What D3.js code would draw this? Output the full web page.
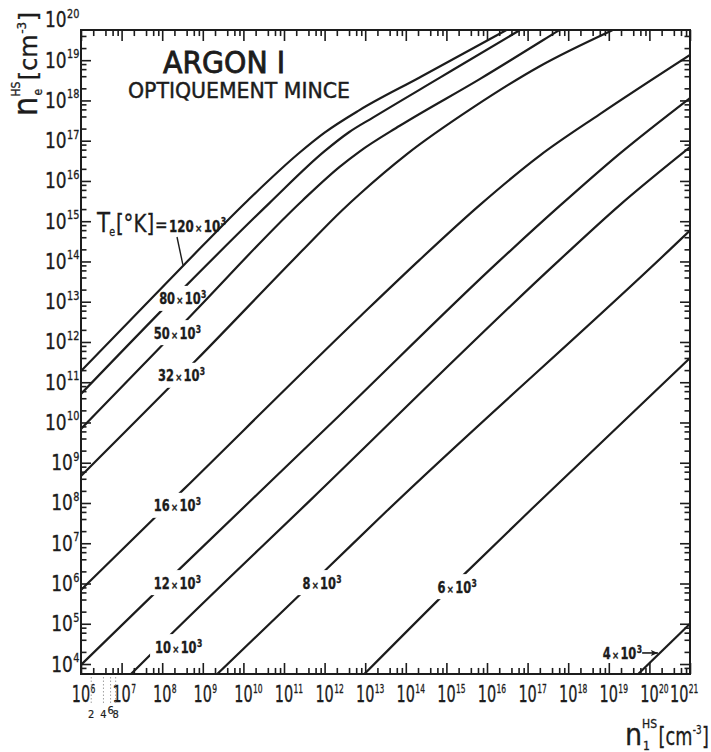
<!DOCTYPE html>
<html>
<head>
<meta charset="utf-8">
<script src="https://cdn.jsdelivr.net/npm/d3@7"></script>
<style>
  body { margin: 0; background: #fff; }
  svg { display: block; }
  text { font-family: "Liberation Sans Narrow", "DejaVu Sans Condensed", "Liberation Sans", sans-serif;
         fill: #1c1c1c; stroke: #1c1c1c; stroke-width: 0.3; }
</style>
</head>
<body>
<svg id="chart" width="711" height="752"></svg>
<script>
// Argon I, optically thin: electron density n_e versus ground-state density n_1,
// one curve per electron temperature. Points are [log10 n1, log10 ne] in cm^-3.

const temperatures = ["120", "80", "50", "32", "16", "12", "10", "8", "6", "4"]; // ×10^3 K

const T120 = [[6.00, 11.28], [8.54, 13.92], [10.10, 15.51], [11.38, 16.70], [12.00, 17.20],
              [12.86, 17.76], [14.34, 18.57], [16.39, 19.70], [17.00, 20.04]];
const T80  = [[6.00, 10.71], [8.54, 13.35], [10.64, 15.45], [12.00, 16.74], [12.60, 17.21],
              [13.20, 17.58], [14.83, 18.56], [16.73, 19.70], [17.50, 20.16]];
const T50  = [[6.00, 9.84], [8.71, 12.66], [11.45, 15.51], [12.37, 16.35], [12.86, 16.73],
              [13.85, 17.37], [15.82, 18.53], [17.72, 19.71], [18.50, 20.20]];
const T32  = [[6.00, 8.67], [8.84, 11.55], [11.45, 14.27], [12.44, 15.28], [12.86, 15.67],
              [14.02, 16.66], [15.65, 17.82], [17.30, 18.85], [19.10, 19.75], [19.60, 19.98]];
const T16  = [[6.00, 5.84], [8.54, 8.35], [12.86, 12.62], [14.34, 14.04], [15.82, 15.40],
              [17.30, 16.63], [18.78, 17.66], [21.00, 19.13]];
const T12  = [[6.00, 3.98], [8.47, 6.40], [12.37, 10.18], [16.31, 14.02], [17.79, 15.38],
              [19.27, 16.68], [21.00, 18.06]];
const T10  = [[7.10, 3.62], [8.25, 4.77], [11.67, 8.09], [17.79, 14.04], [19.27, 15.40], [21.00, 16.84]];
const T8   = [[9.22, 3.62], [12.05, 6.36], [13.53, 7.80], [20.51, 14.30], [21.00, 14.77]];
const T6   = [[12.85, 3.62], [15.45, 6.24], [17.10, 7.85], [21.00, 11.60]];
const T4   = [[19.59, 3.62], [21.00, 5.00]];

const seriesList = [T120, T80, T50, T32, T16, T12, T10, T8, T6, T4];

// Tick labels (exponents of ten) on both axes
const xExponents = d3.range(6, 22);   // 10^6 … 10^21
const yExponents = d3.range(4, 21);   // 10^4 … 10^20
const minorMultipliers = [2, 4, 6, 8];
const firstDecadeMarks = ["2", "4", "6", "8"];

// Where each temperature label sits, in data units [log10 n1, log10 ne]
const labelAnchors = {
  "80": [8.47, 13.07], "50": [8.34, 12.22], "32": [8.44, 11.16], "16": [8.34, 7.93],
  "12": [8.34, 6.01], "10": [8.37, 4.42], "8": [11.90, 6.01], "6": [15.23, 5.91], "4": [19.30, 4.25]
};

const svg = d3.select("#chart");
const frame = { left: 81, right: 690, top: 30, bottom: 674 };
const ink = "#1c1c1c";

const x = d3.scaleLog().domain([1e6, 1e21]).range([frame.left, frame.right]);
const y = d3.scaleLog().domain([Math.pow(10, 3.752), Math.pow(10, 19.75)]).range([frame.bottom, frame.top]);
const P = v => Math.pow(10, v);

// ---- one <text> built from runs (size, weight, raise/lower), optionally squeezed horizontally
function richText(parent, parts, squeeze = 1) {
  const g = parent.append("g");
  const t = g.append("text").attr("transform", `scale(${squeeze},1)`);
  let shift = 0;
  const spans = parts.map(p => {
    const target = p.dy || 0;
    const s = t.append("tspan")
      .attr("font-size", p.size)
      .attr("dy", target - shift)
      .attr("dx", p.dx || 0)
      .text(p.t);
    if (p.weight) s.attr("font-weight", p.weight);
    shift = target;
    return s;
  });
  const w = t.node().getComputedTextLength() * squeeze;
  const first = spans[0].node().getComputedTextLength() * squeeze;
  return { g, w, first };
}

// ---- axes: major ticks at decades, minor at 2,4,6,8
function decadeTicks(lo, hi) {
  const major = [], minor = [];
  for (let k = Math.floor(lo) - 1; k <= Math.ceil(hi); k++) {
    if (k >= lo - 1e-9 && k <= hi + 1e-9) major.push(P(k));
    minorMultipliers.forEach(m => {
      const v = k + Math.log10(m);
      if (v > lo + 0.08 && v < hi - 0.08) minor.push(P(v));
    });
  }
  return { major, minor };
}
const xt = decadeTicks(6, 21);
const yt = decadeTicks(3.752, 19.75);

function drawAxis(axisFn, scale, ticks, len, transform) {
  [[ticks.major, len], [ticks.minor, len * 0.55]].forEach(([vals, size]) => {
    const a = svg.append("g")
      .attr("transform", transform)
      .call(axisFn(scale).tickValues(vals).tickSize(-size).tickFormat(""));
    a.select(".domain").remove();
    a.selectAll(".tick line").attr("stroke", ink).attr("stroke-width", 1.6);
  });
}
drawAxis(d3.axisBottom, x, xt, 11, `translate(0,${frame.bottom})`);
drawAxis(d3.axisTop, x, xt, 11, `translate(0,${frame.top})`);
drawAxis(d3.axisLeft, y, yt, 10, `translate(${frame.left},0)`);
drawAxis(d3.axisRight, y, yt, 10, `translate(${frame.right},0)`);

svg.append("rect")
  .attr("x", frame.left).attr("y", frame.top)
  .attr("width", frame.right - frame.left).attr("height", frame.bottom - frame.top)
  .attr("fill", "none").attr("stroke", ink).attr("stroke-width", 2);

// ---- tick labels: "10" with the exponent raised
let prevRight = -Infinity;
xExponents.forEach(k => {
  const { g, w, first } = richText(svg, [
    { t: "10", size: 23 },
    { t: String(k), size: 12, dy: -9, dx: 0.5 }
  ], 0.7);
  let left = x(P(k)) - first / 2;
  if (left + w > 698) left = 698 - w;
  left = Math.max(left, prevRight + 1);
  prevRight = left + w;
  g.attr("transform", `translate(${left},702)`);
});

yExponents.forEach(k => {
  const { g, w } = richText(svg, [
    { t: "10", size: 21 },
    { t: String(k), size: 12, dy: -9.5, dx: 0.5 }
  ], 0.9);
  g.attr("transform", `translate(${frame.left - 2 - w},${y(P(k)) + 7.5})`);
});

// small marks for 2,4,6,8 × 10^6 below the axis
firstDecadeMarks.forEach(m => {
  const px = x(P(6 + Math.log10(+m))) - 2;
  svg.append("line")
    .attr("x1", px).attr("x2", px).attr("y1", frame.bottom + 3).attr("y2", 704)
    .attr("stroke", "#a0a0a0").attr("stroke-width", 1).attr("stroke-dasharray", "1.5,2");
  svg.append("text")
    .attr("x", px).attr("y", m === "6" ? 714 : 718)
    .attr("text-anchor", "middle").attr("font-size", 11).style("stroke-width", 0.2).text(m);
});

// ---- curves
const defs = svg.append("defs");
defs.append("clipPath").attr("id", "plot-clip")
  .append("rect")
  .attr("x", frame.left).attr("y", frame.top)
  .attr("width", frame.right - frame.left).attr("height", frame.bottom - frame.top);

const line = d3.line()
  .x(d => x(P(d[0])))
  .y(d => y(P(d[1])))
  .curve(d3.curveMonotoneX);

const curveLayer = svg.append("g").attr("clip-path", "url(#plot-clip)");

temperatures.forEach((T, i) => {
  const mask = defs.append("mask").attr("id", `gap-${T}`)
    .attr("maskUnits", "userSpaceOnUse")
    .attr("x", 0).attr("y", 0).attr("width", 711).attr("height", 752);
  mask.append("rect").attr("width", 711).attr("height", 752).attr("fill", "#fff");
  curveLayer.append("path")
    .datum(seriesList[i])
    .attr("d", line)
    .attr("fill", "none")
    .attr("stroke", ink)
    .attr("stroke-width", 2.2)
    .attr("mask", `url(#gap-${T})`);
});

// value of log10 ne on a curve at a given log10 n1 (straight segments), and the inverse
function neAt(series, lx) {
  for (let i = 1; i < series.length; i++) {
    const [x0, y0] = series[i - 1], [x1, y1] = series[i];
    if (lx >= x0 && lx <= x1) return y0 + (y1 - y0) * (lx - x0) / (x1 - x0);
  }
  return series[series.length - 1][1];
}
function n1At(series, ly) {
  for (let i = 1; i < series.length; i++) {
    const [x0, y0] = series[i - 1], [x1, y1] = series[i];
    if (ly >= y0 && ly <= y1) return x0 + (x1 - x0) * (ly - y0) / (y1 - y0);
  }
  return series[series.length - 1][0];
}

// ---- temperature labels placed in gaps of their curves
function tempParts(T) {
  return [
    { t: T, size: 15, weight: "bold" },
    { t: "×", size: 11, weight: "bold", dx: 1.5 },
    { t: "10", size: 15, weight: "bold", dx: 1.5 },
    { t: "3", size: 10, weight: "bold", dy: -6, dx: 0.5 }
  ];
}
function tempLabel(T) {
  const { g, w } = richText(svg, tempParts(T), 0.85);
  const [ax, ay] = labelAnchors[T];
  const cx = x(P(ax)), cy = y(P(ay));
  g.attr("transform", `translate(${cx - w / 2},${cy + 5.5})`);
  return { left: cx - w / 2, right: cx + w / 2, top: cy - 8, bottom: cy + 7 };
}

["80", "50", "32", "16", "12", "10", "8", "6"].forEach(T => {
  const b = tempLabel(T);
  d3.select(`#gap-${T}`).append("rect")
    .attr("x", b.left - 5).attr("y", b.top - 5)
    .attr("width", b.right - b.left + 10).attr("height", b.bottom - b.top + 10)
    .attr("fill", "#000");
});

// 4×10^3 with an arrow to its curve
{
  const b = tempLabel("4");
  const ly = labelAnchors["4"][1];
  const tx = x(P(n1At(T4, ly))) - 1;
  const yy = y(P(ly)) - 1;
  svg.append("line").attr("x1", b.right + 3).attr("x2", tx).attr("y1", yy).attr("y2", yy)
    .attr("stroke", ink).attr("stroke-width", 1.6);
  svg.append("path")
    .attr("d", `M${tx},${yy} l-7,-3 l1.5,3 l-1.5,3 z`)
    .attr("fill", ink);
}

// T_e[°K] = 120×10^3 with a leader to the top curve
{
  const { g } = richText(svg, [
    { t: "T", size: 27 },
    { t: "e", size: 12, dy: 4, dx: -1 },
    { t: "[°K]", size: 25, dx: 1 },
    { t: "=", size: 19, dy: -1, dx: 1 },
    { t: "120", size: 15, weight: "bold", dx: 1.5 },
    { t: "×", size: 11, weight: "bold", dx: 1.5 },
    { t: "10", size: 15, weight: "bold", dx: 1.5 },
    { t: "3", size: 10, weight: "bold", dy: -7, dx: 0.5 }
  ], 0.88);
  g.attr("transform", "translate(97,232)");
  const lx = 8.51;
  const ex = x(P(lx)), ey = y(P(neAt(T120, lx)));
  svg.append("line").attr("x1", 177).attr("y1", 237).attr("x2", ex).attr("y2", ey - 1)
    .attr("stroke", ink).attr("stroke-width", 1.4);
}

// ---- headings
svg.append("text").attr("x", 163).attr("y", 73)
  .attr("font-size", 30).attr("textLength", 122).attr("lengthAdjust", "spacingAndGlyphs")
  .style("stroke-width", 0.8)
  .text("ARGON I");
svg.append("text").attr("x", 128).attr("y", 98)
  .attr("font-size", 21).attr("textLength", 222).attr("lengthAdjust", "spacingAndGlyphs")
  .style("stroke-width", 0.4)
  .text("OPTIQUEMENT MINCE");

// ---- axis titles: n with stacked sub/superscript, then [cm^-3] squeezed to its span
const unitParts = [
  { t: "[cm", size: 24 },
  { t: "-3", size: 12, dy: -11, dx: 0.5 },
  { t: "]", size: 24, dx: 0.5 }
];
function titleBlock(parent, nSize, sub, span) {
  const n = parent.append("text").attr("x", 0).attr("y", 0).attr("font-size", nSize).text("n");
  const wn = n.node().getComputedTextLength();
  parent.append("text").attr("x", wn + 1).attr("y", 5).attr("font-size", 12).text(sub);
  const hs = parent.append("text").attr("x", wn).attr("y", -17).attr("font-size", 12).text("HS");
  const start = wn + hs.node().getComputedTextLength() + 1.5;
  const probe = richText(parent, unitParts, 1);
  const sx = (span - start) / probe.w;
  probe.g.remove();
  const u = richText(parent, unitParts, sx);
  u.g.attr("transform", `translate(${start},0)`);
}
titleBlock(svg.append("g").attr("transform", "translate(37,116) rotate(-90)"), 34, "e", 103);
titleBlock(svg.append("g").attr("transform", "translate(625,745)"), 30, "1", 83);
</script>
</body>
</html>
